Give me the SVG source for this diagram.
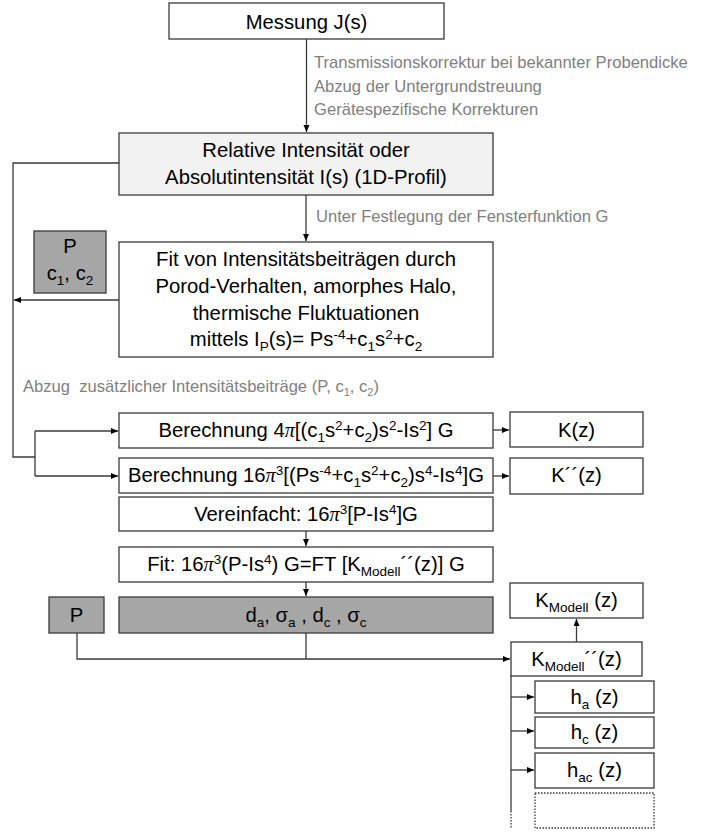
<svg xmlns="http://www.w3.org/2000/svg" width="715" height="832" viewBox="0 0 715 832">
<defs>
<style>
.box{fill:#fff;stroke:#3a3a3a;stroke-width:1.3}
.lt{fill:#f2f2f2;stroke:#3a3a3a;stroke-width:1.3}
.dk{fill:#a6a6a6;stroke:#3a3a3a;stroke-width:1.3}
.dot{fill:none;stroke:#3a3a3a;stroke-width:1.3;stroke-dasharray:1.5 1.5}
.ln{fill:none;stroke:#3a3a3a;stroke-width:1.3}
.t{font-family:"Liberation Sans",Arial,sans-serif;font-size:20.3px;fill:#000;text-anchor:middle}
.g{font-family:"Liberation Sans",Arial,sans-serif;font-size:16.6px;fill:#808080;white-space:pre}
.sp{font-size:13.5px;baseline-shift:7px}
.sb{font-size:13.5px;baseline-shift:-5px}
.gsb{font-size:11px;baseline-shift:-4px}
.pi{font-family:"Liberation Serif",serif;font-style:italic}
</style>
<marker id="ah" markerUnits="userSpaceOnUse" markerWidth="8" markerHeight="8" refX="7" refY="3" orient="auto">
<path d="M0,0 L7,3 L0,6 z" fill="#000"/>
</marker>
</defs>

<g id="connectors">
<path class="ln" d="M306.5,39 V132" marker-end="url(#ah)"/>
<path class="ln" d="M306,195 V241" marker-end="url(#ah)"/>
<path class="ln" d="M119,163 H13 V457 H35"/>
<path class="ln" d="M35,431 V476"/>
<path class="ln" d="M35,431 H118" marker-end="url(#ah)"/>
<path class="ln" d="M35,476 H118" marker-end="url(#ah)"/>
<path class="ln" d="M119,300 H14" marker-end="url(#ah)"/>
<path class="ln" d="M493,430 H509" marker-end="url(#ah)"/>
<path class="ln" d="M493,476 H509" marker-end="url(#ah)"/>
<path class="ln" d="M306,531 V546" marker-end="url(#ah)"/>
<path class="ln" d="M306,582 V596" marker-end="url(#ah)"/>
<path class="ln" d="M77,633 V659 H510" marker-end="url(#ah)"/>
<path class="ln" d="M306,633 V659"/>
<path class="ln" d="M576.5,642 V619" marker-end="url(#ah)"/>
<path class="ln" d="M511,676 V811"/>
<path class="dot" d="M511,811 V828"/>
<path class="ln" d="M511,697 H534" marker-end="url(#ah)"/>
<path class="ln" d="M511,731 H534" marker-end="url(#ah)"/>
<path class="ln" d="M511,770 H534" marker-end="url(#ah)"/>
</g>

<g id="messung">
<rect class="box" x="169" y="3" width="275" height="36"/>
<text class="t" x="306.5" y="29">Messung J(s)</text>
</g>

<g id="korrekturen">
<text class="g" x="314" y="68">Transmissionskorrektur bei bekannter Probendicke</text>
<text class="g" x="314" y="92">Abzug der Untergrundstreuung</text>
<text class="g" x="314" y="115">Gerätespezifische Korrekturen</text>
</g>

<g id="intensitaet">
<rect class="lt" x="119" y="133" width="374" height="62"/>
<text class="t" x="306" y="157">Relative Intensität oder</text>
<text class="t" x="306" y="184">Absolutintensität I(s) (1D-Profil)</text>
</g>

<g id="fensterfunktion">
<text class="g" x="316" y="222">Unter Festlegung der Fensterfunktion G</text>
</g>

<g id="parameter-p-c">
<rect class="dk" x="34" y="231" width="72" height="62"/>
<text class="t" x="70" y="253">P</text>
<text class="t" x="70" y="280">c<tspan class="sb">1</tspan>, c<tspan class="sb">2</tspan></text>
</g>

<g id="fit-beitraege">
<rect class="box" x="119" y="242" width="374" height="115"/>
<text class="t" x="306" y="266">Fit von Intensitätsbeiträgen durch</text>
<text class="t" x="306" y="293">Porod-Verhalten, amorphes Halo,</text>
<text class="t" x="306" y="320">thermische Fluktuationen</text>
<text class="t" x="306" y="346">mittels I<tspan class="sb">P</tspan>(s)= Ps<tspan class="sp">-4</tspan>+c<tspan class="sb">1</tspan>s<tspan class="sp">2</tspan>+c<tspan class="sb">2</tspan></text>
</g>

<g id="abzug">
<text class="g" x="23" y="392">Abzug  zusätzlicher Intensitätsbeiträge (P, c<tspan class="gsb">1</tspan>, c<tspan class="gsb">2</tspan>)</text>
</g>

<g id="berechnung-k">
<rect class="box" x="119" y="413" width="374" height="35"/>
<text class="t" x="306" y="437">Berechnung 4<tspan class="pi">π</tspan>[(c<tspan class="sb">1</tspan>s<tspan class="sp">2</tspan>+c<tspan class="sb">2</tspan>)s<tspan class="sp">2</tspan>-Is<tspan class="sp">2</tspan>] G</text>
</g>

<g id="k">
<rect class="box" x="510" y="412" width="133" height="35"/>
<text class="t" x="576.5" y="437">K(z)</text>
</g>

<g id="berechnung-k2">
<rect class="box" x="119" y="458" width="374" height="35"/>
<text class="t" x="306" y="482">Berechnung 16<tspan class="pi">π</tspan><tspan class="sp">3</tspan>[(Ps<tspan class="sp">-4</tspan>+c<tspan class="sb">1</tspan>s<tspan class="sp">2</tspan>+c<tspan class="sb">2</tspan>)s<tspan class="sp">4</tspan>-Is<tspan class="sp">4</tspan>]G</text>
</g>

<g id="k2">
<rect class="box" x="510" y="458" width="133" height="36"/>
<text class="t" x="576.5" y="482">K´´(z)</text>
</g>

<g id="vereinfacht">
<rect class="box" x="119" y="497" width="374" height="34"/>
<text class="t" x="306" y="521">Vereinfacht: 16<tspan class="pi">π</tspan><tspan class="sp">3</tspan>[P-Is<tspan class="sp">4</tspan>]G</text>
</g>

<g id="fit-modell">
<rect class="box" x="119" y="547" width="374" height="35"/>
<text class="t" x="306" y="571">Fit: 16<tspan class="pi">π</tspan><tspan class="sp">3</tspan>(P-Is<tspan class="sp">4</tspan>) G=FT [K<tspan class="sb">Modell</tspan>´´(z)] G</text>
</g>

<g id="p">
<rect class="dk" x="49" y="597" width="55" height="36"/>
<text class="t" x="76.5" y="622">P</text>
</g>

<g id="strukturparameter">
<rect class="dk" x="119" y="597" width="374" height="36"/>
<text class="t" x="306" y="622">d<tspan class="sb">a</tspan>, σ<tspan class="sb">a</tspan> , d<tspan class="sb">c</tspan> , σ<tspan class="sb">c</tspan></text>
</g>

<g id="k-modell">
<rect class="box" x="510" y="583" width="133" height="35"/>
<text class="t" x="576.5" y="607">K<tspan class="sb">Modell</tspan> (z)</text>
</g>

<g id="k2-modell">
<rect class="box" x="511" y="642" width="131" height="34"/>
<text class="t" x="576.5" y="666">K<tspan class="sb">Modell</tspan>´´(z)</text>
</g>

<g id="ha">
<rect class="box" x="535" y="681" width="119" height="32"/>
<text class="t" x="594.5" y="704">h<tspan class="sb">a</tspan> (z)</text>
</g>

<g id="hc">
<rect class="box" x="535" y="717" width="119" height="31"/>
<text class="t" x="594.5" y="739">h<tspan class="sb">c</tspan> (z)</text>
</g>

<g id="hac">
<rect class="box" x="535" y="753" width="119" height="35"/>
<text class="t" x="594.5" y="777">h<tspan class="sb">ac</tspan> (z)</text>
</g>

<g id="weitere">
<rect class="dot" x="535" y="793" width="119" height="35"/>
</g>
</svg>
